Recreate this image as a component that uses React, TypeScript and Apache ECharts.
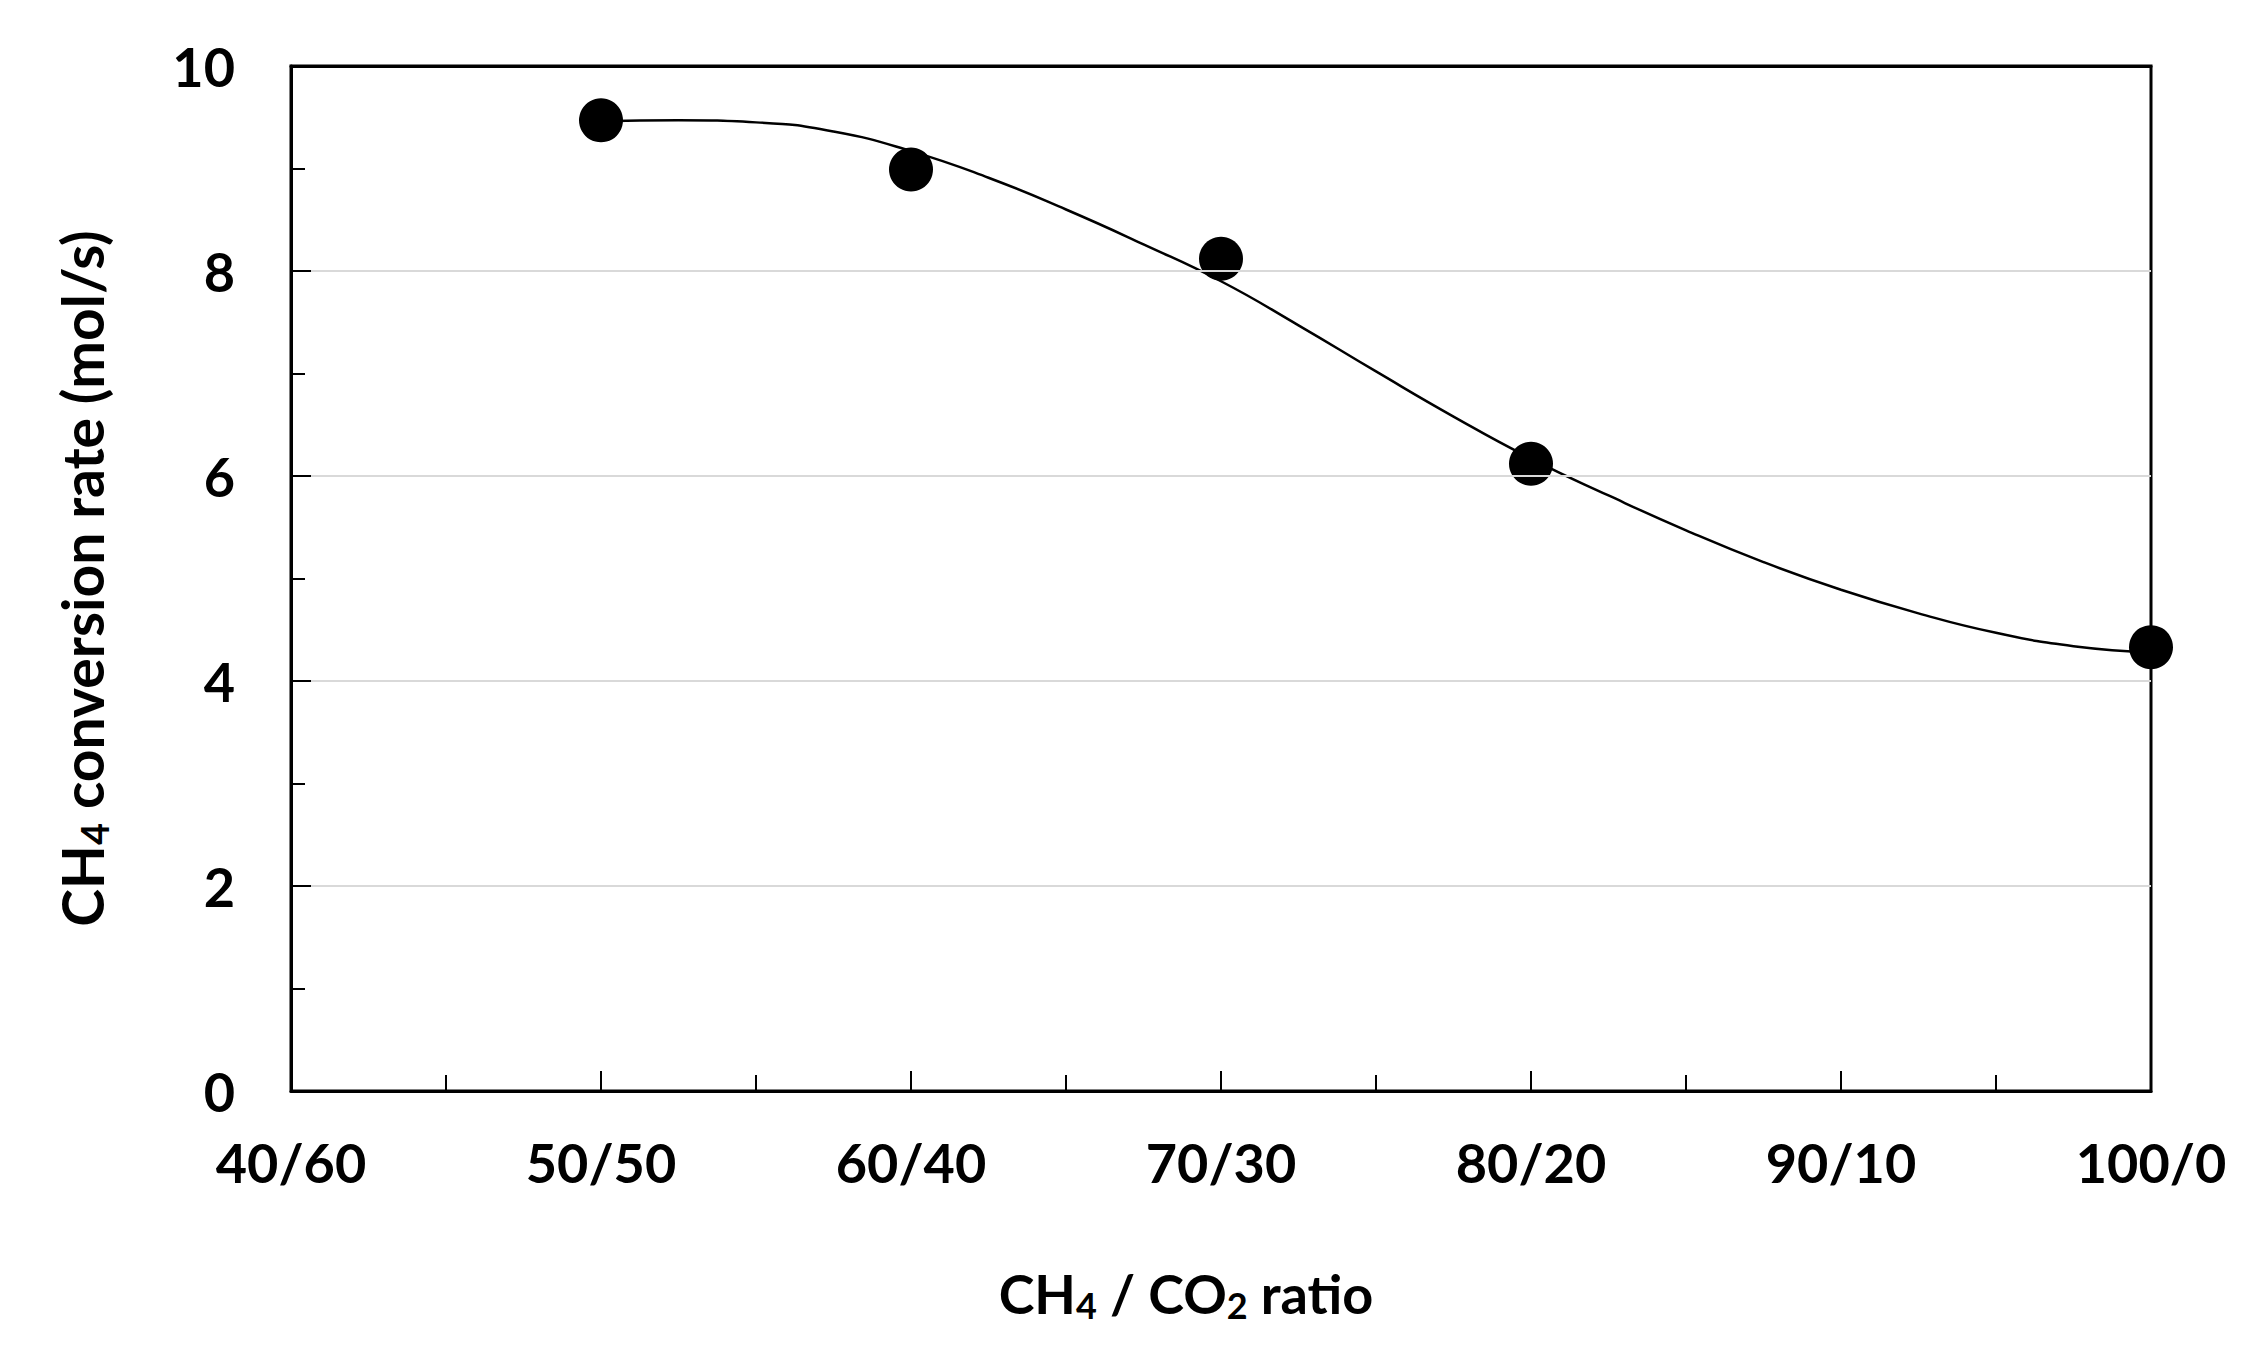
import React, { useEffect, useRef } from "react";
import * as echarts from "echarts";

// Measured points: CH4 share (%) and conversion rate (mol/s)
const pointX = [50, 60, 70, 80, 100];
const pointY = [9.47, 8.99, 8.12, 6.12, 4.33];

// Fitted trend curve
const curveX = [50, 52.5, 55, 57.5, 60, 62.5, 65, 67.5, 70, 72.5, 75, 77.5, 80, 82.5, 85, 87.5, 90, 92.5, 95, 97.5, 100];
const curveY = [9.46, 9.47, 9.45, 9.36, 9.17, 8.91, 8.6, 8.26, 7.9, 7.47, 7.02, 6.58, 6.17, 5.81, 5.47, 5.16, 4.89, 4.66, 4.47, 4.34, 4.28];

// X tick labels (40..100 step 10)
const xTickValues = [40, 50, 60, 70, 80, 90, 100];
const xTickLabels = ["40/60", "50/50", "60/40", "70/30", "80/20", "90/10", "100/0"];

const FONT = "Lato, 'Open Sans', sans-serif";

export default function App() {
  const ref = useRef<HTMLDivElement>(null);
  useEffect(() => {
    if (!ref.current) return;
    const chart = echarts.init(ref.current, null, { renderer: "svg" });
    const richX = {
      m: { fontSize: 54, fontWeight: "bold", fontFamily: FONT, color: "#000", lineHeight: 60 },
      s: { fontSize: 36, fontWeight: "bold", fontFamily: FONT, color: "#000", lineHeight: 16, verticalAlign: "bottom" },
    };
    const richY = {
      m: { fontSize: 57, fontWeight: "bold", fontFamily: FONT, color: "#000", lineHeight: 62 },
      s: { fontSize: 38, fontWeight: "bold", fontFamily: FONT, color: "#000", lineHeight: 16, verticalAlign: "bottom" },
    };
    chart.setOption({
      animation: false,
      backgroundColor: "#fff",
      grid: {
        left: 291,
        right: 104,
        top: 66,
        bottom: 260,
        show: true,
        borderColor: "#000",
        borderWidth: 3,
        backgroundColor: "transparent",
      },
      xAxis: [
        {
          type: "value",
          min: 40,
          max: 100,
          interval: 10,
          name: "{m|CH}{s|4}{m| / CO}{s|2}{m| ratio}",
          nameLocation: "middle",
          nameGap: 172,
          nameTextStyle: { rich: richX, padding: [0, 70, 0, 0] },
          axisLine: { show: true, lineStyle: { color: "#000", width: 3 } },
          axisTick: { show: true, inside: true, length: 20, lineStyle: { color: "#000", width: 2 } },
          minorTick: { show: true, splitNumber: 2, length: 16, lineStyle: { color: "#000", width: 2 } },
          splitLine: { show: false },
          axisLabel: {
            margin: 44,
            fontSize: 54,
            fontWeight: "bold",
            fontFamily: FONT,
            color: "#000",
            formatter: (v: number) => {
              const i = xTickValues.indexOf(v);
              return i >= 0 ? xTickLabels[i] : "";
            },
          },
          z: 10,
        },
        {
          type: "value",
          position: "top",
          min: 40,
          max: 100,
          interval: 10,
          axisLine: { show: true, lineStyle: { color: "#000", width: 3 } },
          axisTick: { show: false },
          axisLabel: { show: false },
          splitLine: { show: false },
          z: 10,
        },
      ],
      yAxis: {
        type: "value",
        min: 0,
        max: 10,
        interval: 2,
        name: "{m|CH}{s|4}{m| conversion rate (mol/s)}",
        nameLocation: "middle",
        nameRotate: 90,
        nameGap: 178,
        nameTextStyle: { rich: richY },
        axisLine: { show: true, lineStyle: { color: "#000", width: 3 } },
        axisTick: { show: true, inside: true, length: 20, lineStyle: { color: "#000", width: 2 } },
        minorTick: { show: true, splitNumber: 2, length: 14, lineStyle: { color: "#000", width: 2 } },
        splitLine: { show: true, lineStyle: { color: "#d9d9d9", width: 2 } },
        axisLabel: {
          margin: 56,
          fontSize: 54,
          fontWeight: "bold",
          fontFamily: FONT,
          color: "#000",
        },
        z: 10,
      },
      series: [
        {
          type: "line",
          data: curveX.map((x, i) => [x, curveY[i]]),
          smooth: true,
          showSymbol: false,
          clip: false,
          lineStyle: { color: "#000", width: 2.5 },
          z: 2,
        },
        {
          type: "scatter",
          data: pointX.map((x, i) => [x, pointY[i]]),
          symbol: "circle",
          symbolSize: 44,
          clip: false,
          itemStyle: { color: "#000", opacity: 1 },
          z: 3,
        },
      ],
    });
    return () => chart.dispose();
  }, []);
  return (
    <div
      ref={ref}
      style={{ position: "fixed", left: 0, top: 0, width: 2255, height: 1351, background: "#fff" }}
    />
  );
}
